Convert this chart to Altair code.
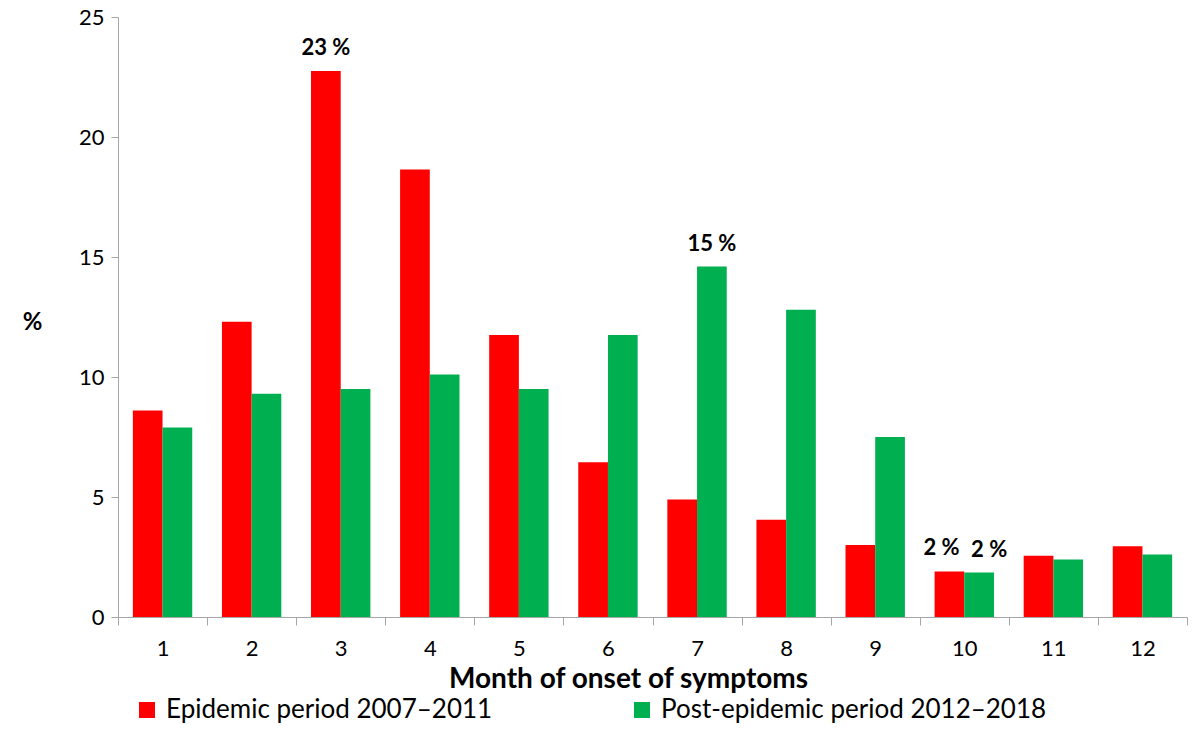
import altair as alt
import pandas as pd

months = list(range(1, 13))
series_names = ["Epidemic period 2007\u20132011", "Post-epidemic period 2012\u20132018"]
epidemic = [8.6, 12.3, 22.75, 18.65, 11.75, 6.45, 4.9, 4.05, 3.0, 1.9, 2.55, 2.95]
post_epidemic = [7.9, 9.3, 9.5, 10.1, 9.5, 11.75, 14.6, 12.8, 7.5, 1.85, 2.4, 2.6]
colors = ["#FF0000", "#00B050"]

# annotations: (month, series index, label, horizontal nudge)
ann_months = [3, 7, 10, 10]
ann_series = [0, 1, 0, 1]
ann_labels = ["23 %", "15 %", "2 %", "2 %"]
ann_nudge = [0, 0, -8, 10]

rows = []
for i, m in enumerate(months):
    rows.append({"month": m, "series": series_names[0], "value": epidemic[i]})
    rows.append({"month": m, "series": series_names[1], "value": post_epidemic[i]})
df = pd.DataFrame(rows)

FONT = "Lato"
GREY = "#A6A6A6"

x_enc = alt.X(
    "month:O",
    scale=alt.Scale(paddingInner=0, paddingOuter=0),
    axis=alt.Axis(
        title="Month of onset of symptoms",
        labelAngle=0,
        labelFontSize=22,
        labelPadding=13,
        labelColor="black",
        tickBand="extent",
        tickSize=8,
        tickColor=GREY,
        domainColor=GREY,
        titleFontSize=28,
        titleFontWeight="bold",
        titleColor="black",
        titleX=510,
        titleY=62,
        titleBaseline="middle",
    ),
)
xo_enc = alt.XOffset(
    "series:N",
    sort=series_names,
    scale=alt.Scale(domain=series_names, paddingInner=0, paddingOuter=0.5),
)
y_enc = alt.Y(
    "value:Q",
    scale=alt.Scale(domain=[0, 25], nice=False),
    axis=alt.Axis(
        values=[0, 5, 10, 15, 20, 25],
        title="%",
        titleAngle=0,
        titleFontSize=24,
        titleFontWeight="bold",
        titleColor="black",
        titleX=-86,
        titleY=305,
        titleAlign="center",
        titleBaseline="middle",
        labelFontSize=22,
        labelPadding=7,
        labelColor="black",
        tickSize=7,
        tickColor=GREY,
        domainColor=GREY,
        grid=False,
    ),
)

bars = alt.Chart(df).mark_bar().encode(
    x=x_enc,
    xOffset=xo_enc,
    y=y_enc,
    color=alt.Color(
        "series:N",
        sort=series_names,
        scale=alt.Scale(domain=series_names, range=colors),
        legend=alt.Legend(
            title=None,
            orient="none",
            legendX=16,
            legendY=680,
            direction="horizontal",
            symbolType="square",
            symbolSize=256,
            symbolStrokeWidth=0,
            symbolOpacity=1,
            labelFontSize=26,
            labelColor="black",
            labelOffset=6,
            labelLimit=600,
            columnPadding=136,
        ),
    ),
)

layers = [bars]
for m, s, lab, nudge in zip(ann_months, ann_series, ann_labels, ann_nudge):
    v = (epidemic if s == 0 else post_epidemic)[m - 1]
    d = pd.DataFrame([{"month": m, "series": series_names[s], "value": v, "label": lab}])
    layers.append(
        alt.Chart(d)
        .mark_text(
            baseline="alphabetic", dy=-16, dx=nudge, fontSize=22,
            fontWeight="bold", color="black", font=FONT,
        )
        .encode(
            x=alt.X("month:O"),
            xOffset=alt.XOffset("series:N", sort=series_names),
            y=alt.Y("value:Q"),
            text="label:N",
        )
    )

chart = (
    alt.layer(*layers)
    .properties(
        width=1069,
        height=600,
        autosize=alt.AutoSizeParams(type="none"),
        padding={"left": 110, "top": 9, "right": 5, "bottom": 108},
    )
    .configure(font=FONT)
    .configure_view(stroke=None)
    .configure_axis(labelFont=FONT, titleFont=FONT)
    .configure_legend(labelFont=FONT)
)

chart.save("out.html", embed_options={"renderer": "svg", "actions": False})
